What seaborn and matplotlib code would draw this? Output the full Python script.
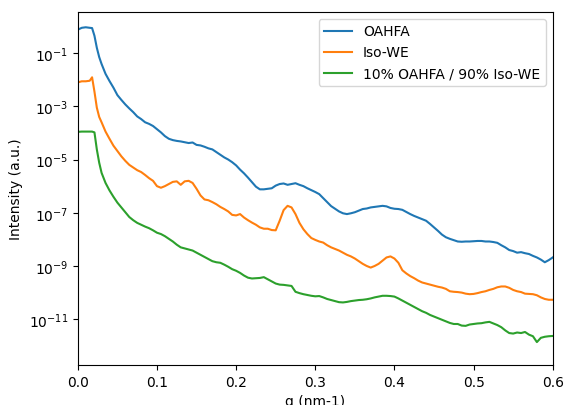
import numpy as np
import matplotlib
matplotlib.use("Agg")
import matplotlib.pyplot as plt
import matplotlib.ticker as mticker
import seaborn as sns

# scattering vector q (nm-1), shared by all three curves
q = [0.000, 0.005, 0.010, 0.015, 0.018, 0.021, 0.024, 0.027, 0.030,
     0.035, 0.040, 0.045, 0.050, 0.055, 0.060, 0.065, 0.070, 0.075, 0.080,
     0.085, 0.090, 0.095, 0.100, 0.105, 0.110, 0.115, 0.120, 0.125, 0.130,
     0.135, 0.140, 0.145, 0.150, 0.155, 0.160, 0.165, 0.170, 0.175, 0.180,
     0.185, 0.190, 0.195, 0.200, 0.205, 0.210, 0.215, 0.220, 0.225, 0.230,
     0.235, 0.240, 0.245, 0.250, 0.255, 0.260, 0.265, 0.270, 0.275, 0.280,
     0.285, 0.290, 0.295, 0.300, 0.305, 0.310, 0.315, 0.320, 0.325, 0.330,
     0.335, 0.340, 0.345, 0.350, 0.355, 0.360, 0.365, 0.370, 0.375, 0.380,
     0.385, 0.390, 0.395, 0.400, 0.405, 0.410, 0.415, 0.420, 0.425, 0.430,
     0.435, 0.440, 0.445, 0.450, 0.455, 0.460, 0.465, 0.470, 0.475, 0.480,
     0.485, 0.490, 0.495, 0.500, 0.505, 0.510, 0.515, 0.520, 0.525, 0.530,
     0.535, 0.540, 0.545, 0.550, 0.555, 0.560, 0.565, 0.570, 0.575, 0.580,
     0.585, 0.590, 0.595, 0.600]

# log10 of intensity
log_oahfa = [-0.12, -0.05, -0.03, -0.05, -0.06, -0.35, -0.80, -1.15, -1.41,
             -1.78, -2.05, -2.30, -2.58, -2.76, -2.93, -3.08, -3.22, -3.38, -3.48,
             -3.60, -3.66, -3.74, -3.86, -3.98, -4.12, -4.22, -4.27, -4.30, -4.32,
             -4.35, -4.38, -4.36, -4.45, -4.47, -4.52, -4.58, -4.62, -4.72, -4.82,
             -4.92, -5.00, -5.10, -5.22, -5.38, -5.52, -5.68, -5.85, -6.02, -6.12,
             -6.12, -6.10, -6.08, -5.98, -5.92, -5.90, -5.95, -5.92, -5.89, -5.95,
             -6.00, -6.08, -6.15, -6.22, -6.30, -6.45, -6.60, -6.75, -6.85, -6.95,
             -7.02, -7.05, -7.02, -6.98, -6.92, -6.86, -6.84, -6.80, -6.78, -6.76,
             -6.74, -6.76, -6.82, -6.85, -6.86, -6.89, -6.97, -7.05, -7.12, -7.18,
             -7.24, -7.30, -7.42, -7.55, -7.68, -7.82, -7.92, -7.98, -8.03, -8.08,
             -8.09, -8.08, -8.08, -8.07, -8.06, -8.06, -8.08, -8.08, -8.10, -8.13,
             -8.22, -8.30, -8.40, -8.44, -8.50, -8.48, -8.52, -8.55, -8.62, -8.68,
             -8.76, -8.86, -8.78, -8.68]

log_isowe = [-2.10, -2.06, -2.06, -2.04, -1.91, -2.45, -3.05, -3.40, -3.60,
             -3.95, -4.22, -4.48, -4.68, -4.88, -5.05, -5.20, -5.30, -5.40, -5.47,
             -5.58, -5.70, -5.80, -6.00, -6.06, -6.00, -5.92, -5.84, -5.82, -5.95,
             -5.82, -5.80, -5.88, -6.10, -6.35, -6.50, -6.53, -6.60, -6.68, -6.78,
             -6.86, -6.95, -7.08, -7.10, -7.05, -7.18, -7.28, -7.37, -7.45, -7.55,
             -7.60, -7.60, -7.65, -7.66, -7.30, -6.90, -6.74, -6.80, -7.05, -7.38,
             -7.62, -7.80, -7.95, -8.02, -8.08, -8.12, -8.22, -8.30, -8.36, -8.42,
             -8.50, -8.58, -8.64, -8.72, -8.82, -8.92, -9.00, -9.06, -9.00, -8.92,
             -8.80, -8.68, -8.64, -8.72, -8.88, -9.16, -9.28, -9.38, -9.46, -9.55,
             -9.62, -9.66, -9.70, -9.74, -9.78, -9.81, -9.86, -9.95, -9.97, -9.98,
             -10.00, -10.04, -10.06, -10.05, -10.02, -9.98, -9.95, -9.90, -9.86, -9.80,
             -9.77, -9.77, -9.82, -9.90, -9.95, -9.98, -10.04, -10.05, -10.06, -10.10,
             -10.18, -10.24, -10.27, -10.27]

log_mix = [-3.96, -3.95, -3.95, -3.95, -3.95, -3.98, -4.62, -5.12, -5.50,
           -5.88, -6.16, -6.40, -6.62, -6.80, -6.98, -7.16, -7.28, -7.38, -7.45,
           -7.52, -7.58, -7.66, -7.75, -7.80, -7.88, -7.98, -8.08, -8.20, -8.30,
           -8.34, -8.38, -8.42, -8.50, -8.58, -8.66, -8.74, -8.82, -8.86, -8.88,
           -8.95, -9.03, -9.12, -9.18, -9.26, -9.36, -9.44, -9.47, -9.46, -9.45,
           -9.42, -9.50, -9.58, -9.66, -9.70, -9.71, -9.73, -9.75, -9.97, -10.02,
           -10.06, -10.09, -10.12, -10.14, -10.13, -10.18, -10.24, -10.28, -10.32, -10.36,
           -10.37, -10.35, -10.32, -10.30, -10.28, -10.27, -10.25, -10.22, -10.18, -10.15,
           -10.12, -10.12, -10.13, -10.15, -10.22, -10.30, -10.38, -10.46, -10.54, -10.62,
           -10.70, -10.76, -10.84, -10.90, -10.96, -11.02, -11.08, -11.14, -11.18, -11.18,
           -11.24, -11.25, -11.20, -11.18, -11.16, -11.15, -11.12, -11.10, -11.16, -11.22,
           -11.30, -11.42, -11.52, -11.54, -11.50, -11.52, -11.48, -11.58, -11.64, -11.86,
           -11.70, -11.66, -11.64, -11.63]

labels = ["OAHFA", "Iso-WE", "10% OAHFA / 90% Iso-WE"]
colors = sns.color_palette("tab10", 3)

fig = plt.figure(figsize=(5.64, 4.06), dpi=100)
ax = fig.add_subplot(111)
fig.subplots_adjust(left=0.138, right=0.980, bottom=0.0985, top=0.968)

for vals, lab, col in zip([log_oahfa, log_isowe, log_mix], labels, colors):
    sns.lineplot(x=q, y=10 ** np.array(vals), label=lab, color=col, ax=ax)

ax.set_yscale("log")
ax.set_xlim(0, 0.6)
ax.set_ylim(1.9e-13, 3.5)
ax.set_yticks([1e-1, 1e-3, 1e-5, 1e-7, 1e-9, 1e-11])
ax.yaxis.set_minor_locator(mticker.NullLocator())
ax.set_xlabel("q (nm-1)")
ax.set_ylabel("Intensity (a.u.)")
ax.legend(loc="upper right")

fig.savefig("out.png", dpi=100)
